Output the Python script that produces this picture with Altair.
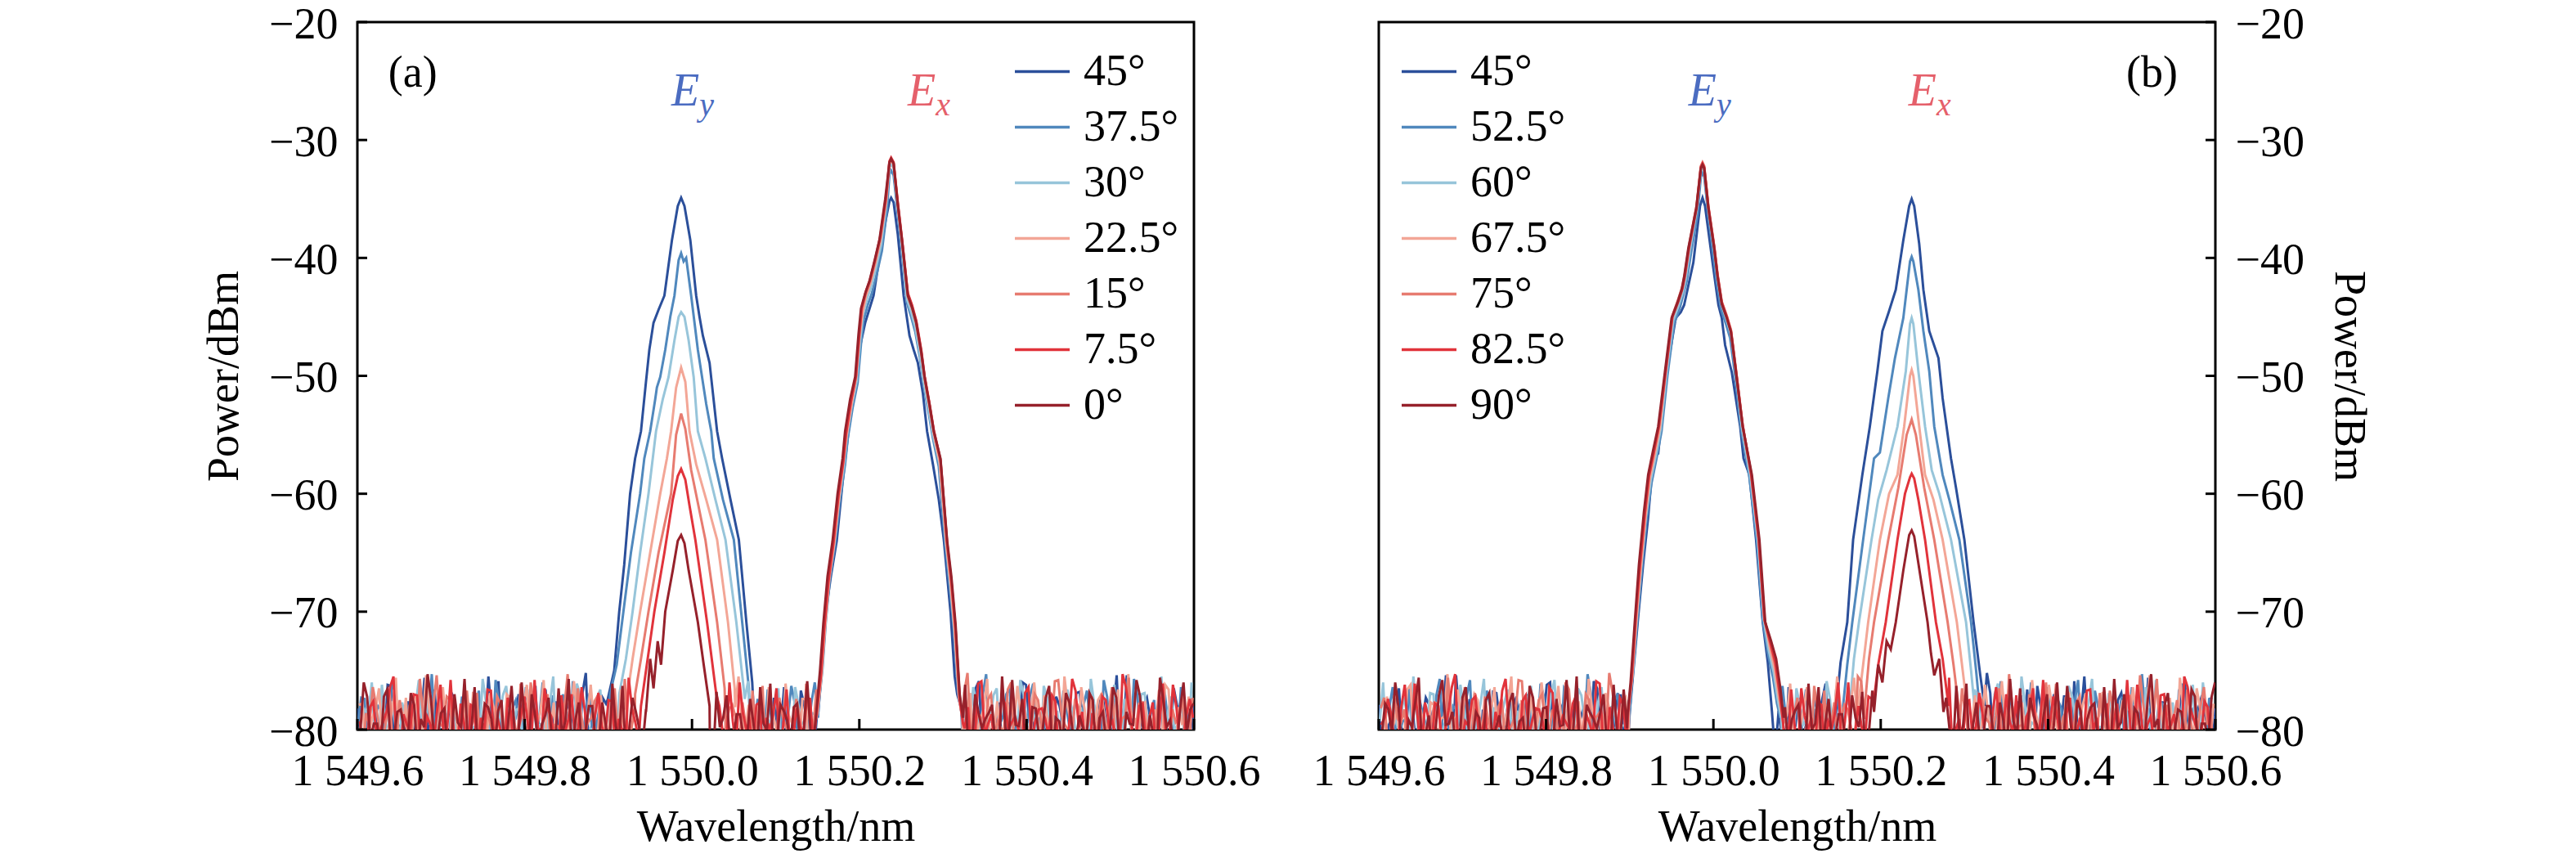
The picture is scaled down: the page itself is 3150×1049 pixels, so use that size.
import altair as alt
import numpy as np
import pandas as pd

FONT = "Liberation Serif"
WL_MIN, WL_MAX = 1549.6, 1550.6
P_MIN, P_MAX = -80, -20
X_TICKS = [1549.6, 1549.8, 1550.0, 1550.2, 1550.4, 1550.6]
Y_TICKS = [-80, -70, -60, -50, -40, -30, -20]

ANGLES_A = ["45°", "37.5°", "30°", "22.5°", "15°", "7.5°", "0°"]
ANGLES_B = ["45°", "52.5°", "60°", "67.5°", "75°", "82.5°", "90°"]
COLORS = ["#2b4f9a", "#5088bd", "#97c5da", "#f3a696", "#e77b70", "#e1333b", "#96212b"]
EY_COLOR = "#4b6cc1"
EX_COLOR = "#e5606b"

EY_CENTER = 1549.987
EX_CENTER = 1550.238
EX_CENTER_B = 1550.237

# ---------------- peak profiles: (offset from peak centre in nm, power in dBm)
# panel (a), Ey peak (changes with angle)
A_EY_45 = [(-0.088,-77.5),(-0.080,-75.0),(-0.074,-70.0),(-0.068,-66.0),(-0.061,-60.0),(-0.055,-57.0),(-0.048,-54.7),(-0.042,-50.5),(-0.038,-47.8),(-0.033,-45.5),(-0.027,-44.4),(-0.020,-43.2),(-0.011,-38.5),(-0.004,-35.6),(0.0,-34.9),(0.004,-35.6),(0.011,-38.5),(0.018,-43.2),(0.022,-45.0),(0.026,-46.6),(0.034,-48.9),(0.043,-54.7),(0.049,-57.0),(0.059,-60.5),(0.069,-63.9),(0.078,-70.9),(0.085,-76.0)]
A_EY_375 = [(-0.085,-77.0),(-0.077,-74.5),(-0.069,-70.0),(-0.060,-65.0),(-0.049,-60.0),(-0.044,-57.0),(-0.037,-54.7),(-0.031,-52.0),(-0.029,-51.0),(-0.025,-50.1),(-0.019,-47.8),(-0.013,-45.0),(-0.008,-43.2),(-0.003,-40.2),(0.0,-39.6),(0.003,-40.3),(0.006,-40.0),(0.012,-43.2),(0.020,-47.8),(0.030,-52.4),(0.036,-54.7),(0.039,-57.0),(0.050,-60.5),(0.063,-63.9),(0.073,-70.9),(0.081,-76.5)]
A_EY_30 = [(-0.074,-77.0),(-0.066,-74.0),(-0.058,-70.0),(-0.049,-65.0),(-0.039,-60.0),(-0.030,-54.7),(-0.022,-52.0),(-0.015,-50.1),(-0.008,-47.0),(-0.003,-45.0),(0.0,-44.6),(0.004,-45.0),(0.009,-47.0),(0.015,-50.1),(0.020,-54.7),(0.029,-57.0),(0.041,-60.5),(0.053,-63.9),(0.066,-70.9),(0.074,-76.0)]
A_EY_225 = [(-0.064,-77.0),(-0.058,-74.0),(-0.049,-70.0),(-0.037,-65.0),(-0.025,-60.0),(-0.017,-57.0),(-0.012,-54.7),(-0.006,-51.0),(0.0,-49.3),(0.005,-50.5),(0.010,-54.7),(0.018,-57.5),(0.030,-60.5),(0.043,-63.9),(0.056,-70.9),(0.064,-76.5)]
A_EY_15 = [(-0.055,-77.0),(-0.048,-74.0),(-0.039,-70.0),(-0.027,-65.0),(-0.012,-60.0),(-0.006,-55.0),(0.0,-53.2),(0.005,-54.5),(0.012,-58.0),(0.029,-63.9),(0.043,-70.9),(0.052,-76.5)]
A_EY_75 = [(-0.048,-78.0),(-0.042,-75.0),(-0.032,-70.0),(-0.020,-65.0),(-0.010,-60.5),(-0.004,-58.5),(0.0,-57.9),(0.005,-58.8),(0.010,-61.0),(0.017,-63.9),(0.031,-70.9),(0.042,-77.0)]
A_EY_0 = [(-0.042,-78.5),(-0.037,-74.0),(-0.033,-76.5),(-0.028,-72.5),(-0.024,-74.5),(-0.019,-70.0),(-0.010,-66.5),(-0.004,-64.0),(0.0,-63.5),(0.004,-64.2),(0.009,-66.5),(0.020,-70.9),(0.027,-74.5),(0.034,-78.0)]

# panel (a), Ex peak (nearly constant)
A_EX_45 = [(-0.087,-78.5),(-0.082,-74.0),(-0.078,-70.0),(-0.072,-67.0),(-0.065,-64.0),(-0.058,-59.0),(-0.051,-54.7),(-0.044,-51.0),(-0.038,-47.8),(-0.031,-45.5),(-0.021,-43.2),(-0.014,-40.0),(-0.007,-37.0),(-0.002,-35.2),(0.0,-34.9),(0.003,-35.3),(0.008,-38.0),(0.015,-43.2),(0.022,-46.6),(0.027,-47.8),(0.032,-48.9),(0.038,-51.5),(0.043,-54.7),(0.050,-57.5),(0.057,-60.5),(0.063,-63.9),(0.071,-70.0),(0.076,-75.5),(0.079,-77.0),(0.083,-78.0)]
A_EX_375 = [(-0.087,-78.2),(-0.082,-74.8),(-0.078,-70.8),(-0.073,-67.1),(-0.067,-64.3),(-0.061,-60.5),(-0.055,-57.5),(-0.052,-55.4),(-0.046,-52.7),(-0.040,-50.6),(-0.036,-47.3),(-0.033,-45.3),(-0.028,-44.0),(-0.023,-43.0),(-0.017,-41.3),(-0.011,-39.4),(-0.005,-36.0),(-0.002,-32.9),(0.0,-32.6),(0.003,-33.0),(0.008,-36.3),(0.013,-39.5),(0.019,-43.8),(0.024,-45.0),(0.029,-46.3),(0.035,-48.7),(0.039,-50.8),(0.045,-53.2),(0.050,-55.3),(0.057,-57.7),(0.065,-64.5),(0.070,-67.9),(0.075,-71.5),(0.080,-76.8),(0.084,-78.5)]
A_EX_30 = [(-0.088,-78.4),(-0.083,-75.0),(-0.079,-71.0),(-0.074,-67.2),(-0.068,-64.3),(-0.062,-60.4),(-0.056,-57.4),(-0.053,-55.2),(-0.047,-52.5),(-0.041,-50.4),(-0.037,-47.0),(-0.034,-44.9),(-0.029,-43.5),(-0.024,-42.5),(-0.018,-40.8),(-0.012,-38.9),(-0.006,-35.5),(-0.002,-32.3),(0.0,-32.0),(0.003,-32.4),(0.008,-35.8),(0.013,-39.0),(0.019,-43.5),(0.024,-44.6),(0.029,-45.9),(0.035,-48.4),(0.039,-50.5),(0.045,-52.9),(0.050,-55.0),(0.058,-57.5),(0.066,-64.4),(0.071,-67.8),(0.076,-71.8),(0.081,-77.0),(0.085,-78.8)]
A_EX_225 = [(-0.088,-78.6),(-0.083,-75.3),(-0.079,-71.4),(-0.074,-67.3),(-0.068,-64.2),(-0.062,-60.3),(-0.057,-57.3),(-0.053,-55.0),(-0.047,-52.3),(-0.042,-50.2),(-0.038,-46.8),(-0.034,-44.6),(-0.030,-43.2),(-0.025,-42.2),(-0.019,-40.5),(-0.013,-38.6),(-0.006,-35.2),(-0.002,-32.0),(0.0,-31.7),(0.003,-32.1),(0.008,-35.6),(0.013,-38.7),(0.020,-43.3),(0.025,-44.3),(0.030,-45.6),(0.036,-48.1),(0.040,-50.3),(0.046,-52.7),(0.051,-54.9),(0.058,-57.3),(0.066,-64.3),(0.071,-67.6),(0.076,-71.7),(0.081,-77.3),(0.085,-79.0)]
A_EX_15 = [(-0.089,-78.8),(-0.084,-75.2),(-0.080,-71.2),(-0.075,-67.2),(-0.069,-64.1),(-0.063,-60.1),(-0.057,-57.1),(-0.054,-54.9),(-0.048,-52.1),(-0.042,-50.1),(-0.038,-46.6),(-0.035,-44.4),(-0.030,-43.0),(-0.025,-42.0),(-0.019,-40.3),(-0.013,-38.4),(-0.006,-35.0),(-0.002,-31.9),(0.0,-31.6),(0.003,-32.0),(0.008,-35.4),(0.013,-38.5),(0.020,-43.1),(0.025,-44.1),(0.030,-45.4),(0.036,-47.9),(0.040,-50.1),(0.046,-52.5),(0.051,-54.7),(0.059,-57.2),(0.067,-64.3),(0.072,-67.5),(0.077,-71.6),(0.082,-77.2),(0.086,-79.2)]
A_EX_75 = [(-0.089,-78.5),(-0.084,-75.5),(-0.080,-71.5),(-0.075,-67.5),(-0.069,-64.2),(-0.063,-60.2),(-0.057,-57.2),(-0.054,-55.0),(-0.048,-52.2),(-0.042,-50.0),(-0.038,-46.4),(-0.035,-44.2),(-0.030,-42.8),(-0.025,-41.8),(-0.019,-40.1),(-0.013,-38.2),(-0.006,-34.8),(-0.002,-31.8),(0.0,-31.5),(0.003,-31.9),(0.008,-35.3),(0.013,-38.4),(0.020,-43.0),(0.025,-44.0),(0.030,-45.3),(0.036,-47.8),(0.040,-50.0),(0.046,-52.4),(0.051,-54.6),(0.059,-57.1),(0.067,-64.2),(0.072,-67.4),(0.077,-71.5),(0.082,-77.5),(0.086,-79.5)]
A_EX_0 = [(-0.090,-79.0),(-0.085,-75.0),(-0.081,-71.0),(-0.076,-67.0),(-0.070,-64.0),(-0.064,-60.0),(-0.058,-57.0),(-0.055,-54.7),(-0.049,-52.0),(-0.043,-50.1),(-0.039,-46.5),(-0.036,-44.3),(-0.031,-43.0),(-0.026,-42.0),(-0.020,-40.3),(-0.014,-38.5),(-0.007,-35.0),(-0.002,-31.9),(0.0,-31.6),(0.003,-32.0),(0.008,-35.5),(0.013,-38.5),(0.020,-43.2),(0.025,-44.2),(0.030,-45.5),(0.036,-48.0),(0.040,-50.1),(0.046,-52.5),(0.051,-54.7),(0.059,-57.0),(0.067,-64.0),(0.072,-67.0),(0.077,-71.0),(0.082,-77.0),(0.086,-79.0)]

# panel (b), Ey peak (nearly constant)
B_EY_45 = [(-0.087,-78.5),(-0.082,-74.5),(-0.077,-70.5),(-0.071,-66.0),(-0.065,-62.0),(-0.059,-57.0),(-0.053,-56.6),(-0.048,-53.0),(-0.043,-49.7),(-0.032,-45.1),(-0.026,-44.6),(-0.022,-44.0),(-0.011,-40.4),(-0.003,-35.6),(0.0,-34.9),(0.003,-35.6),(0.012,-40.4),(0.019,-44.0),(0.023,-45.1),(0.027,-47.4),(0.035,-49.7),(0.045,-54.3),(0.049,-57.0),(0.056,-58.4),(0.064,-63.9),(0.072,-70.9),(0.078,-74.3),(0.083,-78.5)]
B_EY_525 = [(-0.087,-78.4),(-0.083,-74.8),(-0.078,-70.8),(-0.073,-66.8),(-0.067,-62.3),(-0.061,-59.1),(-0.055,-57.0),(-0.049,-54.7),(-0.042,-50.0),(-0.034,-45.6),(-0.027,-44.2),(-0.023,-43.1),(-0.019,-42.0),(-0.014,-39.7),(-0.006,-36.3),(-0.002,-33.1),(0.0,-32.8),(0.002,-33.1),(0.007,-36.4),(0.013,-39.8),(0.017,-42.1),(0.022,-44.3),(0.028,-45.6),(0.033,-46.8),(0.039,-50.0),(0.046,-54.5),(0.056,-58.6),(0.065,-64.0),(0.072,-70.7),(0.078,-73.5),(0.084,-75.5),(0.089,-77.8),(0.093,-79.0)]
B_EY_60 = [(-0.088,-78.2),(-0.083,-75.0),(-0.079,-70.9),(-0.074,-66.7),(-0.068,-62.1),(-0.062,-58.9),(-0.056,-56.8),(-0.050,-54.5),(-0.043,-49.8),(-0.035,-45.3),(-0.028,-43.9),(-0.023,-42.8),(-0.020,-41.7),(-0.015,-39.3),(-0.007,-35.9),(-0.002,-32.6),(0.0,-32.3),(0.002,-32.6),(0.007,-36.0),(0.014,-39.4),(0.018,-41.8),(0.023,-44.0),(0.029,-45.3),(0.034,-46.5),(0.040,-49.8),(0.047,-54.4),(0.057,-58.5),(0.066,-63.9),(0.073,-70.6),(0.079,-73.2),(0.085,-75.1),(0.090,-77.5),(0.094,-79.0)]
B_EY_675 = [(-0.088,-78.0),(-0.084,-75.2),(-0.079,-70.7),(-0.074,-66.5),(-0.068,-61.9),(-0.063,-58.7),(-0.057,-56.6),(-0.051,-54.4),(-0.044,-49.6),(-0.036,-45.0),(-0.029,-43.6),(-0.024,-42.5),(-0.021,-41.4),(-0.016,-39.0),(-0.007,-35.6),(-0.002,-32.3),(0.0,-32.0),(0.002,-32.3),(0.007,-35.7),(0.014,-39.1),(0.018,-41.5),(0.023,-43.8),(0.029,-45.0),(0.034,-46.2),(0.040,-49.6),(0.048,-54.3),(0.058,-58.3),(0.067,-63.8),(0.074,-70.5),(0.080,-72.9),(0.086,-74.8),(0.091,-77.2),(0.095,-78.8)]
B_EY_75 = [(-0.089,-78.3),(-0.084,-75.5),(-0.080,-70.8),(-0.075,-66.4),(-0.069,-61.8),(-0.064,-58.6),(-0.058,-56.5),(-0.052,-54.3),(-0.044,-49.5),(-0.036,-44.9),(-0.029,-43.5),(-0.024,-42.4),(-0.021,-41.3),(-0.016,-38.9),(-0.007,-35.5),(-0.002,-32.2),(0.0,-31.9),(0.002,-32.2),(0.007,-35.6),(0.014,-39.0),(0.018,-41.4),(0.023,-43.7),(0.029,-44.9),(0.034,-46.1),(0.040,-49.5),(0.048,-54.2),(0.058,-58.2),(0.067,-63.7),(0.074,-70.6),(0.081,-72.8),(0.087,-74.6),(0.092,-77.0),(0.096,-79.0)]
B_EY_825 = [(-0.089,-78.6),(-0.085,-75.8),(-0.080,-70.6),(-0.075,-66.2),(-0.069,-61.7),(-0.064,-58.5),(-0.058,-56.4),(-0.052,-54.2),(-0.044,-49.6),(-0.036,-45.0),(-0.029,-43.7),(-0.024,-42.6),(-0.021,-41.5),(-0.016,-39.1),(-0.007,-35.7),(-0.002,-32.3),(0.0,-32.0),(0.002,-32.3),(0.007,-35.7),(0.014,-39.1),(0.018,-41.5),(0.023,-43.8),(0.029,-45.0),(0.034,-46.2),(0.040,-49.6),(0.048,-54.2),(0.058,-58.3),(0.067,-63.8),(0.074,-70.7),(0.081,-72.6),(0.087,-74.3),(0.092,-76.8),(0.096,-79.2)]
B_EY_90 = [(-0.090,-79.0),(-0.086,-76.0),(-0.081,-70.9),(-0.076,-66.0),(-0.070,-61.5),(-0.065,-58.4),(-0.059,-56.3),(-0.053,-54.3),(-0.045,-49.7),(-0.037,-45.1),(-0.030,-43.8),(-0.025,-42.7),(-0.022,-41.6),(-0.017,-39.2),(-0.0075,-35.8),(-0.002,-32.4),(0.0,-32.1),(0.002,-32.4),(0.007,-35.8),(0.014,-39.2),(0.018,-41.6),(0.023,-43.9),(0.029,-45.1),(0.034,-46.3),(0.040,-49.7),(0.048,-54.3),(0.059,-58.4),(0.068,-63.9),(0.075,-70.9),(0.082,-72.5),(0.088,-74.0),(0.093,-76.5),(0.097,-79.0)]

# panel (b), Ex peak (changes with angle)
B_EX_45 = [(-0.090,-78.0),(-0.085,-74.3),(-0.077,-70.9),(-0.070,-63.9),(-0.059,-58.4),(-0.050,-54.3),(-0.041,-49.6),(-0.035,-46.2),(-0.027,-44.5),(-0.019,-42.7),(-0.010,-38.5),(-0.003,-35.6),(0.0,-35.0),(0.003,-35.6),(0.009,-38.8),(0.014,-42.7),(0.021,-46.2),(0.032,-48.5),(0.037,-51.9),(0.047,-57.0),(0.053,-59.5),(0.063,-63.9),(0.074,-70.9),(0.082,-75.4),(0.087,-78.0)]
B_EX_525 = [(-0.082,-78.0),(-0.077,-74.5),(-0.071,-70.9),(-0.058,-63.9),(-0.045,-57.0),(-0.038,-56.5),(-0.028,-51.9),(-0.020,-48.5),(-0.010,-45.1),(-0.006,-42.7),(-0.002,-40.3),(0.0,-39.9),(0.002,-40.3),(0.008,-42.7),(0.014,-46.2),(0.021,-49.6),(0.027,-54.3),(0.037,-58.4),(0.045,-60.5),(0.057,-63.9),(0.071,-70.9),(0.077,-75.0),(0.081,-78.0)]
B_EX_60 = [(-0.074,-78.0),(-0.069,-74.0),(-0.063,-70.9),(-0.048,-63.9),(-0.040,-60.5),(-0.030,-58.0),(-0.017,-54.3),(-0.007,-49.6),(-0.002,-45.6),(0.0,-45.1),(0.002,-45.6),(0.008,-49.6),(0.016,-54.3),(0.024,-58.0),(0.033,-60.0),(0.047,-63.9),(0.065,-70.9),(0.071,-75.0),(0.075,-78.0)]
B_EX_675 = [(-0.064,-78.0),(-0.058,-74.5),(-0.052,-70.9),(-0.038,-63.9),(-0.027,-60.0),(-0.017,-58.4),(-0.009,-54.3),(-0.002,-50.0),(0.0,-49.5),(0.002,-50.0),(0.009,-54.3),(0.016,-58.4),(0.026,-60.5),(0.037,-63.9),(0.054,-70.9),(0.061,-75.0),(0.066,-78.0)]
B_EX_75 = [(-0.056,-78.0),(-0.051,-74.0),(-0.045,-70.9),(-0.028,-63.9),(-0.016,-59.5),(-0.006,-55.0),(0.0,-53.7),(0.005,-55.0),(0.015,-59.5),(0.027,-63.9),(0.043,-70.9),(0.050,-74.5),(0.056,-78.0)]
B_EX_825 = [(-0.046,-78.0),(-0.040,-74.5),(-0.031,-70.9),(-0.017,-63.9),(-0.008,-60.0),(-0.002,-58.6),(0.0,-58.3),(0.003,-58.7),(0.008,-60.5),(0.016,-63.9),(0.029,-70.9),(0.037,-74.0),(0.044,-78.0)]
B_EX_90 = [(-0.045,-78.5),(-0.040,-74.5),(-0.035,-76.0),(-0.030,-72.5),(-0.025,-73.2),(-0.019,-70.9),(-0.010,-66.5),(-0.003,-63.5),(0.0,-63.1),(0.003,-63.6),(0.010,-66.8),(0.019,-70.9),(0.023,-73.5),(0.027,-75.4),(0.033,-74.0),(0.038,-78.5)]

# ---------------- noise floor readings (dBm), one list per trace
NOISE_1 = [-78.2,-80.9,-77.1,-79.4,-81.6,-76.3,-79.8,-82.0,-77.7,-80.3,-75.6,-79.1,-81.2,-78.6,-76.9,-80.7,-79.3,-82.4,-77.4,-80.1,-78.8,-75.9,-81.3,-79.6,-77.0,
           -80.5,-78.1,-82.2,-76.6,-79.9,-80.8,-77.5,-79.0,-81.7,-75.2,-78.9,-80.4,-77.8,-81.1,-79.2,-76.4,-80.6,-78.3,-82.1,-77.2,-79.7,-80.2,-76.8,-81.4,-78.5,
           -79.5,-75.8,-80.9,-78.0,-81.9,-77.6,-79.3,-80.6,-76.1,-78.7,-81.0,-79.8,-77.3,-80.3,-82.3,-78.4,-76.7,-79.6,-81.5,-77.9,-80.0,-75.5,-79.1,-81.8,-78.2,
           -80.7,-77.0,-79.4,-82.5,-76.2,-80.1,-78.9,-81.2,-77.4,-79.9,-75.7,-80.8,-78.6,-81.6,-77.1,-79.0,-80.4,-76.5,-81.3,-78.1,-79.7,-82.0,-77.7,-80.2,-76.0,
           -79.2,-81.1,-78.5,-80.6,-77.2,-79.5,-81.9,-76.9,-80.0,-78.3,-82.2,-77.5,-79.8,-75.4,-80.5,-78.8,-81.4,-77.9,-79.1,-80.9,-76.6,-81.0,-78.0,-79.6,-82.4]
NOISE_2 = [-79.6,-77.4,-81.2,-78.0,-80.5,-76.1,-82.3,-79.0,-77.8,-80.9,-78.4,-75.3,-81.0,-79.7,-77.2,-80.2,-82.6,-78.5,-76.7,-79.9,-81.4,-77.6,-80.6,-78.2,-79.3,
           -76.4,-81.8,-78.9,-80.0,-77.1,-82.0,-79.5,-75.9,-80.7,-78.1,-81.5,-77.9,-79.2,-80.4,-76.8,-82.1,-78.6,-79.8,-77.5,-81.1,-80.3,-76.2,-79.4,-81.7,-78.3,
           -77.0,-80.8,-79.1,-82.4,-75.7,-80.1,-78.7,-81.3,-77.3,-79.6,-80.5,-76.6,-82.2,-78.8,-79.0,-77.7,-81.6,-80.0,-76.0,-79.3,-81.9,-78.0,-80.7,-77.4,-82.5,
           -79.7,-76.3,-80.2,-78.4,-81.0,-77.8,-79.5,-75.6,-80.9,-78.2,-82.0,-79.1,-77.6,-80.6,-76.9,-81.4,-78.5,-79.9,-77.0,-80.3,-82.3,-78.9,-76.5,-79.8,-81.2,
           -77.2,-80.4,-78.6,-81.8,-79.0,-76.7,-80.1,-82.1,-77.9,-79.4,-81.5,-75.8,-80.8,-78.3,-79.6,-81.1,-77.1,-80.0,-78.7,-82.2,-76.4,-79.3,-80.7,-78.1,-81.6]
NOISE_3 = [-80.4,-78.3,-76.0,-81.5,-79.2,-77.6,-82.1,-78.8,-80.0,-75.8,-79.5,-81.7,-77.3,-80.6,-78.5,-82.4,-76.9,-79.8,-80.9,-77.7,-81.1,-79.0,-76.3,-80.3,-78.2,
           -81.9,-77.4,-79.6,-80.7,-75.5,-81.3,-78.6,-79.9,-77.0,-82.2,-80.1,-76.6,-79.3,-81.6,-78.0,-80.5,-77.8,-82.6,-79.1,-76.2,-80.8,-78.4,-81.0,-77.2,-79.7,
           -82.0,-76.8,-80.2,-78.9,-81.4,-77.5,-79.4,-80.6,-75.9,-81.8,-78.1,-79.2,-77.9,-82.3,-80.0,-76.4,-79.5,-81.2,-78.7,-80.9,-77.1,-79.8,-82.5,-76.7,-80.4,
           -78.6,-81.5,-77.6,-79.0,-80.3,-75.6,-81.7,-78.3,-79.9,-77.3,-82.1,-80.7,-76.1,-79.6,-81.0,-78.0,-80.2,-77.7,-82.4,-79.3,-76.5,-80.8,-78.8,-81.3,-77.0,
           -79.7,-80.5,-76.3,-81.9,-78.4,-79.1,-77.8,-82.0,-80.1,-75.7,-79.4,-81.6,-78.2,-80.6,-77.4,-79.8,-82.2,-76.9,-80.0,-78.5,-81.1,-77.2,-79.5,-80.9,-76.0]
NOISE_4 = [-77.9,-81.3,-79.0,-76.5,-80.6,-78.2,-82.0,-77.3,-79.7,-80.8,-75.4,-81.6,-78.7,-79.9,-77.5,-82.3,-80.1,-76.8,-79.2,-81.0,-78.0,-80.5,-77.0,-82.5,-79.4,
           -76.2,-80.9,-78.5,-81.7,-77.7,-79.1,-80.3,-75.9,-81.2,-78.9,-79.6,-77.1,-82.1,-80.7,-76.6,-79.3,-81.5,-78.3,-80.0,-77.6,-82.4,-79.8,-76.0,-80.4,-78.6,
           -81.1,-77.2,-79.5,-80.2,-75.6,-81.8,-78.1,-79.0,-77.9,-82.2,-80.6,-76.4,-79.7,-81.3,-78.8,-80.1,-77.4,-82.6,-79.2,-76.7,-80.8,-78.4,-81.9,-77.0,-79.9,
           -80.5,-76.1,-81.4,-78.0,-79.3,-77.8,-82.0,-80.2,-75.8,-79.6,-81.0,-78.6,-80.9,-77.3,-79.4,-82.3,-76.9,-80.3,-78.2,-81.6,-77.6,-79.8,-80.7,-76.3,-81.2,
           -78.7,-79.1,-77.1,-82.1,-80.0,-75.5,-79.5,-81.7,-78.3,-80.6,-77.5,-79.0,-82.5,-76.6,-80.4,-78.9,-81.1,-77.7,-79.6,-80.8,-76.2,-81.5,-78.1,-79.3,-82.0]
NOISE_5 = [-81.0,-78.6,-76.4,-80.2,-79.1,-82.2,-77.5,-79.8,-80.9,-75.7,-81.4,-78.0,-79.5,-77.2,-82.0,-80.4,-76.7,-79.2,-81.8,-78.4,-80.6,-77.8,-82.5,-79.0,-76.1,
           -80.8,-78.2,-81.2,-77.0,-79.6,-80.1,-75.3,-81.7,-78.8,-79.4,-77.6,-82.3,-80.5,-76.5,-79.9,-81.1,-78.1,-80.7,-77.3,-82.1,-79.3,-76.8,-80.3,-78.5,-81.5,
           -77.1,-79.7,-80.0,-75.9,-81.9,-78.3,-79.0,-77.7,-82.4,-80.6,-76.3,-79.5,-81.3,-78.9,-80.2,-77.4,-82.0,-79.1,-76.6,-80.9,-78.0,-81.6,-77.9,-79.8,-80.4,
           -75.6,-81.0,-78.7,-79.2,-77.1,-82.2,-80.8,-76.2,-79.4,-81.4,-78.2,-80.1,-77.6,-82.6,-79.7,-76.9,-80.5,-78.6,-81.8,-77.0,-79.3,-80.3,-76.0,-81.2,-78.4,
           -79.9,-77.5,-82.3,-80.0,-75.8,-79.6,-81.1,-78.1,-80.7,-77.2,-79.0,-82.1,-76.4,-80.6,-78.8,-81.7,-77.8,-79.5,-80.2,-76.7,-81.5,-78.3,-79.1,-82.4,-77.3]
NOISE_6 = [-79.3,-81.7,-77.6,-80.1,-78.4,-75.5,-82.0,-79.6,-77.0,-80.8,-78.9,-81.3,-76.2,-79.9,-80.4,-77.8,-82.3,-78.1,-79.0,-76.6,-81.0,-80.2,-77.3,-82.6,-78.7,
           -79.5,-75.8,-80.9,-78.3,-81.5,-77.1,-79.2,-80.6,-76.4,-82.1,-78.8,-79.7,-77.5,-81.2,-80.0,-75.6,-79.4,-81.8,-78.0,-80.5,-77.7,-82.4,-79.1,-76.8,-80.7,
           -78.5,-81.1,-77.2,-79.8,-80.3,-76.0,-81.6,-78.6,-79.3,-77.9,-82.2,-80.1,-76.5,-79.6,-81.4,-78.2,-80.8,-77.4,-82.5,-79.0,-76.3,-80.4,-78.9,-81.9,-77.0,
           -79.7,-80.6,-75.9,-81.3,-78.4,-79.2,-77.6,-82.0,-80.2,-76.7,-79.5,-81.0,-78.1,-80.9,-77.3,-79.9,-82.3,-76.1,-80.5,-78.7,-81.7,-77.8,-79.4,-80.0,-76.9,
           -81.2,-78.3,-79.1,-77.1,-82.2,-80.7,-75.7,-79.8,-81.5,-78.6,-80.3,-77.5,-79.3,-82.1,-76.4,-80.1,-78.0,-81.6,-77.7,-79.6,-80.8,-76.2,-81.1,-78.8,-79.0]
NOISE_7 = [-80.1,-77.2,-79.5,-82.0,-76.6,-80.7,-78.3,-81.4,-77.9,-79.1,-75.3,-80.9,-78.6,-82.3,-77.0,-79.8,-81.1,-76.4,-80.3,-78.1,-81.7,-77.5,-79.4,-80.6,-76.0,
           -82.2,-78.8,-79.6,-77.3,-81.0,-80.4,-75.7,-79.2,-81.9,-78.0,-80.8,-77.7,-82.5,-79.7,-76.3,-80.0,-78.5,-81.3,-77.1,-79.3,-80.5,-75.9,-81.6,-78.2,-79.9,
           -77.6,-82.1,-80.2,-76.8,-79.0,-81.2,-78.7,-80.6,-77.4,-82.4,-79.5,-76.1,-80.9,-78.4,-81.5,-77.8,-79.8,-80.3,-75.5,-81.8,-78.0,-79.2,-77.2,-82.0,-80.7,
           -76.5,-79.6,-81.1,-78.9,-80.1,-77.0,-82.2,-79.4,-76.7,-80.4,-78.3,-81.7,-77.6,-79.9,-80.8,-76.2,-81.3,-78.6,-79.1,-77.9,-82.5,-80.0,-75.8,-79.7,-81.0,
           -78.1,-80.6,-77.3,-82.1,-79.3,-76.9,-80.2,-78.8,-81.4,-77.5,-79.0,-80.9,-76.4,-81.8,-78.5,-79.6,-77.1,-82.3,-80.5,-75.6,-79.8,-81.2,-78.2,-80.3,-77.8]

NOISE = [NOISE_1, NOISE_2, NOISE_3, NOISE_4, NOISE_5, NOISE_6, NOISE_7]

A_VAR = [A_EY_45, A_EY_375, A_EY_30, A_EY_225, A_EY_15, A_EY_75, A_EY_0]
A_STRONG = [A_EX_45, A_EX_375, A_EX_30, A_EX_225, A_EX_15, A_EX_75, A_EX_0]
B_STRONG = [B_EY_45, B_EY_525, B_EY_60, B_EY_675, B_EY_75, B_EY_825, B_EY_90]
B_VAR = [B_EX_45, B_EX_525, B_EX_60, B_EX_675, B_EX_75, B_EX_825, B_EX_90]

# annotation text (positions in data units)
TAG_A = {"wl": [1549.637], "p": [-25.5], "t": ["(a)"]}
TAG_B = {"wl": [1550.555], "p": [-25.5], "t": ["(b)"]}
E_A = {"wl": [1550.0088, 1550.2914], "p": [-27.1, -27.1]}
E_B = {"wl": [1550.0037, 1550.2667], "p": [-27.1, -27.1]}

W, H = 1023, 865


def build(angles, peaks_y, peaks_x, cy, cx, flip):
    rows = []
    n_sets = len(NOISE)
    for i, ang in enumerate(angles):
        segs = [[(cy + o, v) for o, v in peaks_y[i]], [(cx + o, v) for o, v in peaks_x[i]]]
        a = NOISE[i]
        b = NOISE[(i + 3) % n_sets][::-1]
        nz = [v for pair in zip(a, b) for v in pair]
        if flip:
            nz = nz[::-1]
        xs = np.linspace(WL_MIN, WL_MAX, len(nz)) + 0.0006 * i
        pts = []
        for xv, v in zip(xs, nz):
            if xv > WL_MAX:
                continue
            if any(s[0][0] <= xv <= s[-1][0] for s in segs):
                continue
            pts.append((float(xv), v))
        for s in segs:
            pts.extend(s)
        pts.sort()
        for k, (xv, v) in enumerate(pts):
            rows.append({"wl": xv, "p": v, "angle": ang, "k": k})
    return pd.DataFrame(rows)


df_a = build(ANGLES_A, A_VAR, A_STRONG, EY_CENTER, EX_CENTER, False)
df_b = build(ANGLES_B, B_STRONG, B_VAR, EY_CENTER, EX_CENTER_B, True)

xscale = alt.Scale(domain=[WL_MIN, WL_MAX], nice=False, zero=False)
yscale = alt.Scale(domain=[P_MIN, P_MAX], nice=False, zero=False)


def panel(df, angles, side, legend_x, tag, elab):
    x_axis = alt.Axis(values=X_TICKS, labelExpr="'1 ' + substring(format(datum.value, '.1f'), 1)",
                      title="Wavelength/nm", ticks=False, domain=False, grid=False,
                      labelPadding=24, titlePadding=14, labelFlush=False, labelOverlap=False)
    y_axis = alt.Axis(values=Y_TICKS, format="d", orient=side, title="Power/dBm", ticks=False,
                      domain=False, grid=False, labelPadding=24, titlePadding=27, labelOffset=3,
                      labelFlush=False, labelOverlap=False)
    X = lambda f: alt.X(f, scale=xscale, axis=x_axis, title="Wavelength/nm")
    Y = lambda f: alt.Y(f, scale=yscale, axis=y_axis, title="Power/dBm")
    legend = alt.Legend(title=None, orient="none", legendX=legend_x, legendY=25, symbolType="stroke",
                        symbolSize=4489, symbolStrokeWidth=3.5, labelFont=FONT, labelFontSize=54,
                        labelColor="black", labelOffset=15, rowPadding=5, padding=0)
    layers = []
    for i, ang in enumerate(angles):
        sub = df[df["angle"] == ang]
        layers.append(
            alt.Chart(sub).mark_line(strokeWidth=3, clip=True).encode(
                x=X("wl:Q"), y=Y("p:Q"),
                color=alt.Color("angle:N", scale=alt.Scale(domain=angles, range=COLORS),
                                sort=angles, legend=legend),
                order="k:Q",
            )
        )
    yt = pd.DataFrame({"v": Y_TICKS})
    xt = pd.DataFrame({"v": X_TICKS})
    if side == "left":
        ytick = alt.Chart(yt).mark_rule(color="black", strokeWidth=3).encode(
            y=Y("v:Q"), x=alt.value(0), x2=alt.value(12))
    else:
        ytick = alt.Chart(yt).mark_rule(color="black", strokeWidth=3).encode(
            y=Y("v:Q"), x=alt.value(W), x2=alt.value(W - 12))
    xtick = alt.Chart(xt).mark_rule(color="black", strokeWidth=3).encode(
        x=X("v:Q"), y=alt.value(H), y2=alt.value(H - 13))
    tag_df = pd.DataFrame(tag)
    tag_layer = alt.Chart(tag_df).mark_text(font=FONT, fontSize=54, color="black",
                                            align="left" if side == "left" else "right",
                                            baseline="alphabetic").encode(
        x=X("wl:Q"), y=Y("p:Q"), text="t:N")
    e_df = pd.DataFrame({"wl": elab["wl"], "p": elab["p"], "big": ["E", "E"], "sub": ["y", "x"]})
    e_layers = []
    for j, col in enumerate([EY_COLOR, EX_COLOR]):
        one = e_df.iloc[[j]]
        e_layers.append(alt.Chart(one).mark_text(font=FONT, fontSize=56, fontStyle="italic", color=col,
                                                 align="right", baseline="alphabetic").encode(
            x=X("wl:Q"), y=Y("p:Q"), text="big:N"))
        e_layers.append(alt.Chart(one).mark_text(font=FONT, fontSize=40, fontStyle="italic", color=col,
                                                 align="left", baseline="alphabetic", dy=12).encode(
            x=X("wl:Q"), y=Y("p:Q"), text="sub:N"))
    return alt.layer(*layers, ytick, xtick, tag_layer, *e_layers).properties(width=W, height=H)


pa = panel(df_a, ANGLES_A, "left", 802, TAG_A, E_A)
pb = panel(df_b, ANGLES_B, "right", 26, TAG_B, E_B)

chart = alt.hconcat(pa, pb, spacing=226, bounds="flush").resolve_scale(color="independent").resolve_legend(
    color="independent").properties(
    autosize=alt.AutoSizeParams(type="none"),
    padding={"left": 429, "top": 19, "right": 2700, "bottom": 1020}, background="white").configure_view(
    stroke="black", strokeWidth=3).configure_axis(
    labelFont=FONT, labelFontSize=54, labelColor="black", titleFont=FONT, titleFontSize=54,
    titleFontWeight="normal", titleColor="black")

chart.save("out.html", embed_options={"renderer": "svg", "actions": False})
